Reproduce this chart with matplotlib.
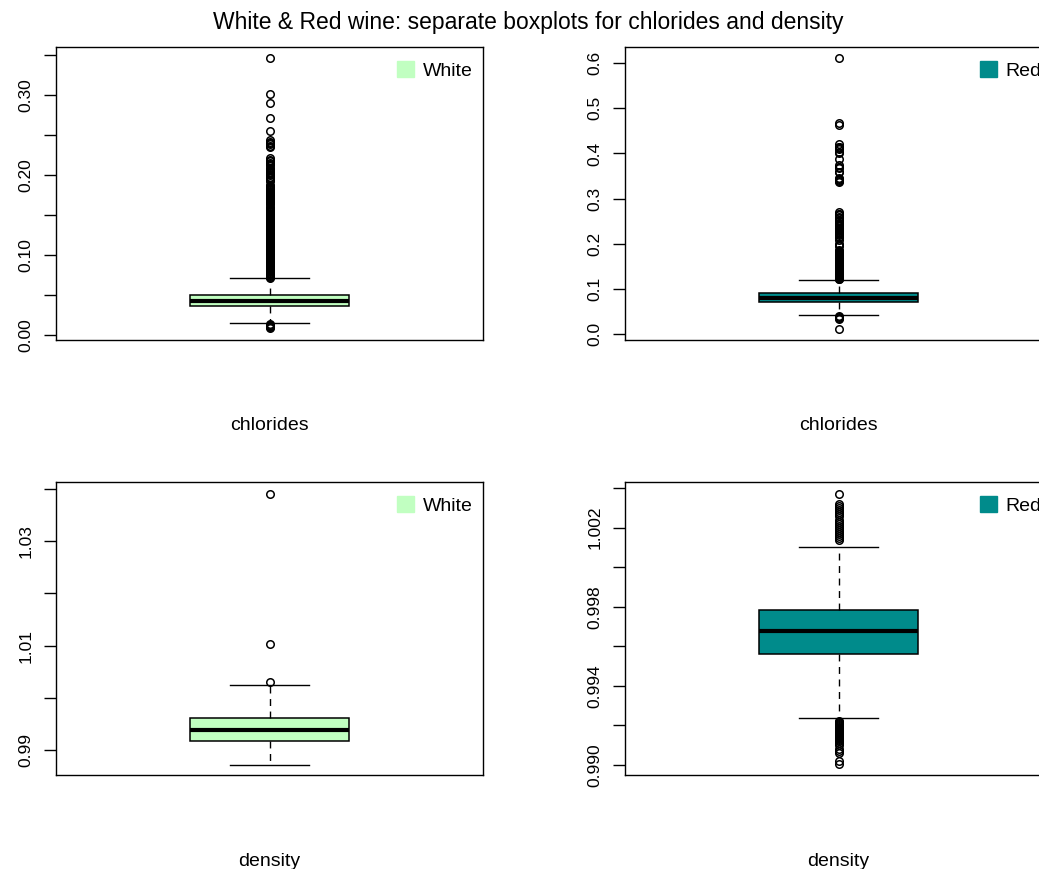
import numpy as np
import matplotlib
matplotlib.use("Agg")
import matplotlib.pyplot as plt
from matplotlib.patches import Patch

plt.rcParams['font.family'] = ['Liberation Sans', 'DejaVu Sans']

# ---------------- data ----------------
title = "White & Red wine: separate boxplots for chlorides and density"
variables = ["chlorides", "density"]
wine_labels = ["White", "Red"]
wine_colors = ["#C1FFC1", "#008B8B"]

# five-number summaries: whislo, q1, med, q3, whishi
white_chlorides_stats = [0.015, 0.036, 0.043, 0.050, 0.071]
red_chlorides_stats = [0.041, 0.070, 0.079, 0.090, 0.119]
white_density_stats = [0.98711, 0.99172, 0.99374, 0.99610, 1.00241]
red_density_stats = [0.99236, 0.99560, 0.99675, 0.99784, 1.00100]

white_chlorides_out = [
    0.009, 0.010, 0.011, 0.012, 0.013, 0.014,
    0.072, 0.073, 0.074, 0.075, 0.076, 0.077, 0.078, 0.079, 0.080, 0.081,
    0.082, 0.083, 0.084, 0.085, 0.086, 0.087, 0.088, 0.089, 0.090, 0.091,
    0.092, 0.093, 0.094, 0.095, 0.096, 0.097, 0.098, 0.099, 0.100, 0.101,
    0.102, 0.103, 0.104, 0.105, 0.106, 0.107, 0.108, 0.109, 0.110, 0.111,
    0.112, 0.113, 0.114, 0.115, 0.116, 0.117, 0.118, 0.119, 0.120, 0.121,
    0.122, 0.123, 0.124, 0.125, 0.126, 0.127, 0.128, 0.129, 0.130, 0.131,
    0.132, 0.133, 0.134, 0.135, 0.136, 0.137, 0.138, 0.139, 0.140, 0.141,
    0.142, 0.143, 0.144, 0.145, 0.146, 0.147, 0.148, 0.149, 0.150, 0.151,
    0.152, 0.153, 0.154, 0.155, 0.156, 0.157, 0.158, 0.159, 0.160,
    0.164, 0.165, 0.166, 0.167, 0.168, 0.169, 0.170, 0.171, 0.172, 0.173,
    0.174, 0.175, 0.176, 0.178, 0.179, 0.180, 0.181, 0.182, 0.183, 0.184,
    0.185, 0.186, 0.188, 0.192, 0.194, 0.196, 0.197, 0.200, 0.201, 0.203,
    0.204, 0.206, 0.208, 0.209, 0.212, 0.214, 0.215, 0.217, 0.219, 0.221,
    0.235, 0.236, 0.239, 0.240, 0.241, 0.244, 0.255, 0.271, 0.290, 0.301,
    0.346]
red_chlorides_out = [
    0.012, 0.034, 0.036, 0.038, 0.039,
    0.121, 0.122, 0.123, 0.124, 0.125, 0.126, 0.127, 0.128, 0.129, 0.130,
    0.132, 0.134, 0.136, 0.137, 0.139, 0.141, 0.143, 0.145, 0.147, 0.148,
    0.150, 0.152, 0.153, 0.155, 0.157, 0.159, 0.161, 0.163, 0.165, 0.166,
    0.168, 0.169, 0.171, 0.172, 0.174, 0.176, 0.178, 0.180, 0.182, 0.184,
    0.186, 0.194, 0.197, 0.200, 0.208, 0.214, 0.216, 0.219, 0.222, 0.224,
    0.226, 0.228, 0.230, 0.232, 0.235, 0.236, 0.239, 0.241, 0.243, 0.246,
    0.250, 0.253, 0.256, 0.260, 0.263, 0.265, 0.267, 0.270,
    0.337, 0.340, 0.341, 0.343, 0.346, 0.358, 0.360, 0.368, 0.369, 0.375,
    0.387, 0.401, 0.403, 0.410, 0.413, 0.414, 0.415, 0.422, 0.464, 0.467,
    0.611]
white_density_out = [1.00295, 1.0103, 1.03898]
red_density_out = [
    0.99007, 0.99020, 0.99060, 0.99070, 0.99080, 0.99100, 0.99110, 0.99120,
    0.99125, 0.99130, 0.99135, 0.99140, 0.99145, 0.99150, 0.99155, 0.99160,
    0.99165, 0.99170, 0.99175, 0.99180, 0.99185, 0.99190, 0.99195, 0.99200,
    0.99205, 0.99210, 0.99215, 0.99220,
    1.0014, 1.0015, 1.0016, 1.0017, 1.0018, 1.0019, 1.0020, 1.0021, 1.0022,
    1.0023, 1.0024, 1.0026, 1.0027, 1.0028, 1.0029, 1.0030, 1.0031, 1.0032,
    1.00369]

# y ticks and their labels (R drops overlapping labels)
wc_ticks = [0.00, 0.05, 0.10, 0.15, 0.20, 0.25, 0.30, 0.35]
wc_labels = ["0.00", "", "0.10", "", "0.20", "", "0.30", ""]
rc_ticks = [0.0, 0.1, 0.2, 0.3, 0.4, 0.5, 0.6]
rc_labels = ["0.0", "0.1", "0.2", "0.3", "0.4", "0.5", "0.6"]
wd_ticks = [0.99, 1.00, 1.01, 1.02, 1.03, 1.04]
wd_labels = ["0.99", "", "1.01", "", "1.03", ""]
rd_ticks = [0.990, 0.992, 0.994, 0.996, 0.998, 1.000, 1.002, 1.004]
rd_labels = ["0.990", "", "0.994", "", "0.998", "", "1.002", ""]

ylims = [(-0.006, 0.360), (-0.0133, 0.636), (0.98522, 1.04129), (0.98949, 1.00431)]

# ---------------- figure ----------------
W, H = 1039, 869
fig = plt.figure(figsize=(W / 100, H / 100), dpi=100)

def px_axes(left, top, width, height):
    return fig.add_axes([left / W, 1 - (top + height) / H, width / W, height / H])

panels = [
    (56, 47, white_chlorides_stats, white_chlorides_out, 0, wc_ticks, wc_labels, "chlorides"),
    (625, 47, red_chlorides_stats, red_chlorides_out, 1, rc_ticks, rc_labels, "chlorides"),
    (56, 482, white_density_stats, white_density_out, 0, wd_ticks, wd_labels, "density"),
    (625, 482, red_density_stats, red_density_out, 1, rd_ticks, rd_labels, "density"),
]

AW, AH = 427, 293
for i, (lx, ty, st, out, wi, ticks, tlabels, xlab) in enumerate(panels):
    ax = px_axes(lx, ty, AW, AH)
    stats = [dict(whislo=st[0], q1=st[1], med=st[2], q3=st[3], whishi=st[4],
                  fliers=np.array(out))]
    ax.bxp(stats, positions=[1], widths=0.371, capwidths=0.185,
           patch_artist=True,
           boxprops=dict(facecolor=wine_colors[wi], edgecolor="black", linewidth=1.1),
           medianprops=dict(color="black", linewidth=3.0, solid_capstyle="butt"),
           whiskerprops=dict(color="black", linewidth=1.0, linestyle=(0, (5, 4))),
           capprops=dict(color="black", linewidth=1.0),
           flierprops=dict(marker="o", markerfacecolor="none", markeredgecolor="black",
                           markersize=5.4, markeredgewidth=1.1, linestyle="none"))
    ax.set_xlim(0.5, 1.5)
    ax.set_ylim(*ylims[i])
    ax.set_xticks([])
    ax.set_yticks(ticks)
    ax.set_yticklabels(tlabels, rotation=90, va="center", fontsize=12.5)
    ax.tick_params(axis="y", length=9, width=1.0, pad=7, colors="black")
    for sp in ax.spines.values():
        sp.set_linewidth(1.0)
    ax.set_xlabel(xlab, fontsize=14)
    ax.xaxis.label.set_va("center")
    ax.xaxis.set_label_coords(0.5, -86 / AH)
    ax.legend(handles=[Patch(facecolor=wine_colors[wi], edgecolor=wine_colors[wi])],
              labels=[wine_labels[wi]], loc="upper right",
              bbox_to_anchor=(0.976, 0.953), frameon=False, borderpad=0,
              handlelength=0.9, handleheight=0.9, handletextpad=0.45,
              fontsize=14, borderaxespad=0)

fig.text(528 / W, 1 - 23 / H, title, ha="center", va="center", fontsize=16.5)

fig.savefig("out.png", dpi=100)
